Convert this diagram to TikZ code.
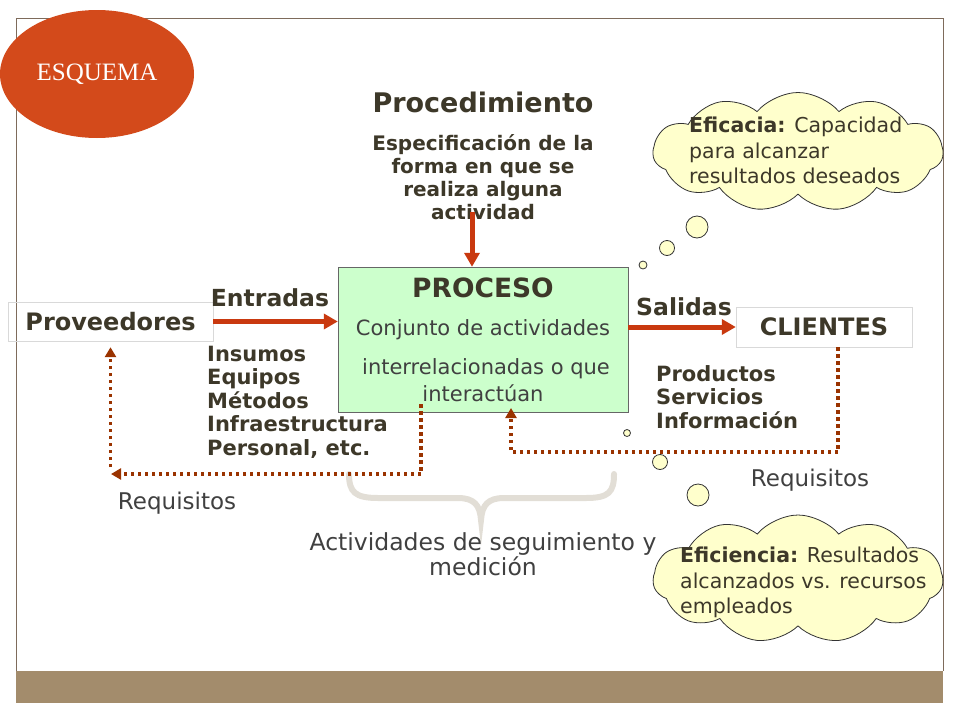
\documentclass[tikz,border=0pt]{standalone}
\usepackage{fontspec}
\setmainfont{DejaVu Sans}
\newfontfamily\esqfont{Liberation Serif}
\usepackage{xcolor}
\usetikzlibrary{arrows.meta,positioning,shapes.geometric,shapes.symbols,calc}

\definecolor{esqred}{HTML}{D34A1B}
\definecolor{arrowred}{HTML}{C9390F}
\definecolor{dotbrown}{HTML}{9A3300}
\definecolor{procgreen}{HTML}{CCFFCC}
\definecolor{cloudyellow}{HTML}{FFFFCC}
\definecolor{txtdark}{HTML}{3D3829}
\definecolor{txtgray}{HTML}{404040}
\definecolor{bracegray}{HTML}{E2DED6}
\definecolor{bandtan}{HTML}{A38C6C}
\definecolor{framebrown}{HTML}{7E6B5B}

\begin{document}
\begin{tikzpicture}[x=1pt, y=-1pt,
    boldtxt/.style={font=\fontsize{21}{23.5}\selectfont\bfseries, text=txtdark, inner sep=0pt, align=left},
    plaintxt/.style={font=\fontsize{21}{24}\selectfont, text=txtgray, inner sep=0pt},
    flowlbl/.style={font=\fontsize{24}{28}\selectfont\bfseries, text=txtdark, inner sep=0pt},
    endbox/.style={draw=black!15, inner sep=0pt, font=\fontsize{24}{28}\selectfont\bfseries, text=txtdark},
    bigarrow/.style={arrowred, line width=5pt, -{Triangle[length=14pt,width=15pt]}},
    fbarrow/.style={dotbrown, line width=3.5pt, dash pattern=on 3.5pt off 3.5pt, -{Triangle[length=10pt,width=11pt]}},
    bubble/.style={circle, draw=black!80, fill=cloudyellow, line width=0.8pt, inner sep=0pt},
    thought/.style={cloud, cloud puffs=11, cloud puff arc=100, cloud ignores aspect, draw=black!80, fill=cloudyellow, line width=0.8pt, inner sep=0pt},
    cloudtxt/.style={font=\fontsize{20.5}{25.5}\selectfont, text=txtdark, inner sep=0pt, align=left, anchor=west}
  ]
    \useasboundingbox (0,0) rectangle (960,720);

    % Slide frame and band
    \draw[framebrown, line width=0.8pt] (16,671) -- (16,18) -- (943,18) -- (943,671);
    \fill[bandtan] (16,671) rectangle (943,703);

    % Title ellipse
    \node[ellipse, fill=esqred, minimum width=194pt, minimum height=128pt, inner sep=0pt,
          font=\esqfont\fontsize{25}{28}\selectfont, text=white] (esquema) at (97,74) {ESQUEMA};

    % Procedimiento
    \node[flowlbl, font=\fontsize{27}{30}\selectfont\bfseries] (proced) at (483,102) {Procedimiento};
    \node[boldtxt, align=center, font=\fontsize{20}{23}\selectfont\bfseries] (espec) at (483,177)
        {Especificación de la\\forma en que se\\realiza alguna\\actividad};

    % Proceso
    \node[draw=black!60, fill=procgreen, minimum width=290pt, minimum height=145pt, inner sep=0pt] (proceso) at (483,339.5) {};
    \node[flowlbl, font=\fontsize{26.5}{30}\selectfont\bfseries] (proctitle) at (483,288) {PROCESO};
    \node[plaintxt] (conj) at (483,330) {Conjunto de actividades};
    \node[plaintxt] (inter) at (486,369) {interrelacionadas o que};
    \node[plaintxt] (interact) at (483,393) {interactúan};

    % Proveedores and clientes
    \node[endbox, minimum width=205pt, minimum height=39pt] (prov) at (110.5,321.5) {Proveedores};
    \node[endbox, minimum width=176pt, minimum height=40pt] (clientes) at (824,327) {CLIENTES};

    % Entradas / salidas
    \node[flowlbl, font=\fontsize{23.5}{28}\selectfont\bfseries] (entradas) at (270,298) {Entradas};
    \node[flowlbl, font=\fontsize{23.5}{28}\selectfont\bfseries] (salidas) at (684,307) {Salidas};
    \node[boldtxt, anchor=west] (insumos) at (207,402) {Insumos\\Equipos\\Métodos\\Infraestructura\\Personal, etc.};
    \node[boldtxt, anchor=west] (productos) at (656,397) {Productos\\Servicios\\Información};

    % Seguimiento
    \draw[bracegray, line width=6pt, line cap=round] (349,474) .. controls (349,492) and (355,498) .. (378,498)
        -- (458,498) .. controls (474,498) and (480,505) .. (481,520)
        .. controls (482,505) and (488,498) .. (504,498) -- (586,498)
        .. controls (609,498) and (614,492) .. (614,474);
    \node[plaintxt, align=center, font=\fontsize{23.5}{25}\selectfont] (activ) at (483,554.5) {Actividades de seguimiento y\\medición};
    \node[plaintxt, font=\fontsize{23}{26}\selectfont] (reqL) at (177,503) {Requisitos};
    \node[plaintxt, font=\fontsize{23}{26}\selectfont] (reqR) at (810,480) {Requisitos};

    % Flow arrows
    \coordinate (pin) at (472,212);
    \draw[bigarrow] (pin) -- (pin |- proceso.north);
    \draw[bigarrow] (prov.east) -- (prov.east -| proceso.west);
    \draw[bigarrow] (proceso.east |- clientes.west) -- (clientes.west);

    % Requisitos feedback
    \coordinate (fbL) at (421,404);
    \coordinate (fbLc) at (111,474);
    \coordinate (fbLup) at (110.5,467);
    \coordinate (fbRin) at (511,408);
    \draw[fbarrow] (fbL) |- (fbLc);
    \draw[fbarrow, shorten >=6pt] (fbLup) -- (prov.south);
    \draw[fbarrow] ([xshift=14pt]clientes.south) -- ++(0,105) -| (fbRin);

    % Thought clouds
    \node[bubble, minimum size=8pt] (b1) at (643,265) {};
    \node[bubble, minimum size=15pt] (b2) at (667,248) {};
    \node[bubble, minimum size=22pt] (b3) at (697,227) {};
    \node[thought, minimum width=290pt, minimum height=119pt] (eficacia) at (798,152) {};
    \node[cloudtxt] (eficaciatxt) at (689,150.5) {\textbf{Eficacia:} Capacidad\\para alcanzar\\resultados deseados};

    \node[bubble, minimum size=7pt] (b4) at (627,433) {};
    \node[bubble, minimum size=15pt] (b5) at (660,462) {};
    \node[bubble, minimum size=22pt] (b6) at (698,495) {};
    \node[thought, minimum width=290pt, minimum height=128pt] (eficiencia) at (798,579) {};
    \node[cloudtxt] (eficienciatxt) at (680,582.5) {\textbf{Eficiencia:} Resultados\\alcanzados vs. recursos\\empleados};
\end{tikzpicture}
\end{document}
